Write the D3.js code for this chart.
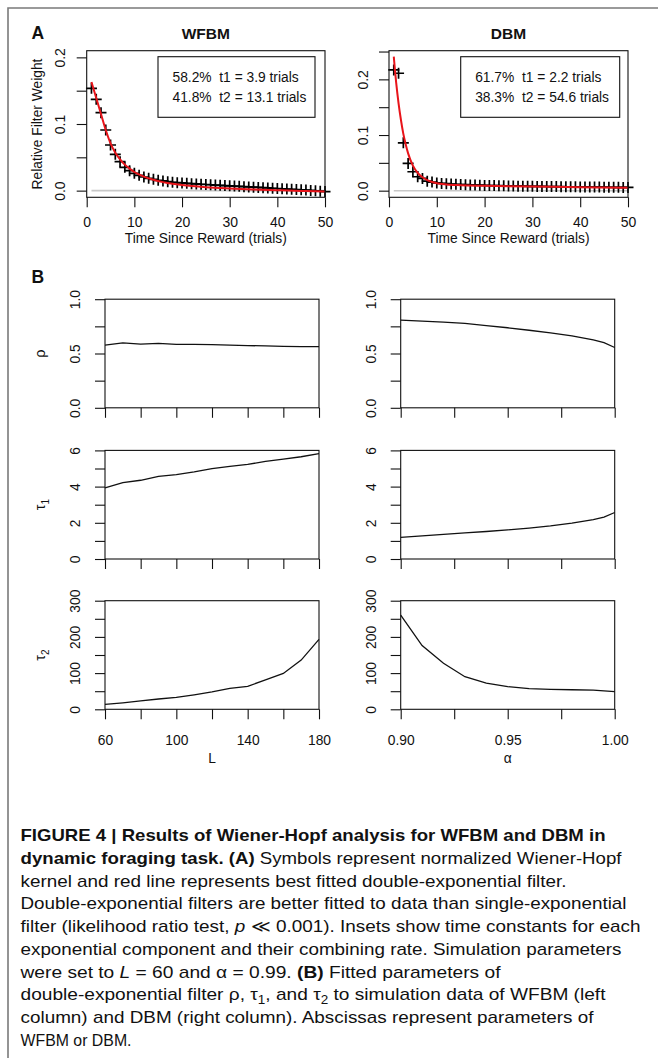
<!DOCTYPE html>
<html>
<head>
<meta charset="utf-8">
<script src="https://cdn.jsdelivr.net/npm/d3@7"></script>
<style>
  body { margin: 0; background: #fff; }
  svg { display: block; }
  text { font-family: "Liberation Sans", Arial, sans-serif; fill: #111; }
</style>
</head>
<body>
<svg id="fig" width="658" height="1058"></svg>
<script>
// ---- panel A: Wiener-Hopf kernel (crosses, trial 1..50) and fitted filter (red)
const wfbmKernel = [0.1535, 0.137, 0.117, 0.091, 0.0685, 0.0545, 0.0435, 0.035, 0.030, 0.026,
  0.023, 0.0205, 0.0185, 0.017, 0.0155, 0.0145, 0.0135, 0.0125, 0.012, 0.0115,
  0.011, 0.0105, 0.010, 0.0096, 0.0092, 0.0088, 0.0084, 0.008, 0.0076, 0.0072,
  0.0068, 0.0064, 0.006, 0.0056, 0.0052, 0.0048, 0.0044, 0.004, 0.0036, 0.0032,
  0.0028, 0.0024, 0.002, 0.0016, 0.0012, 0.0008, 0.0003, -0.0002, -0.0008, -0.0014];
const wfbmFitT = [1, 1.5, 2, 2.5, 3, 4, 5, 6, 7, 8, 9, 10, 12, 14, 16, 18, 20, 25, 30, 35, 40, 45, 50];
const wfbmFitV = [0.163, 0.151, 0.139, 0.127, 0.115, 0.091, 0.071, 0.057, 0.047, 0.039, 0.033, 0.028,
  0.021, 0.0163, 0.0128, 0.0102, 0.0083, 0.0052, 0.0033, 0.0018, 0.0006, -0.0004, -0.0012];

const dbmKernel = [0.217, 0.211, 0.086, 0.049, 0.034, 0.025, 0.022, 0.017, 0.0155, 0.014,
  0.013, 0.0125, 0.012, 0.0115, 0.011, 0.0107, 0.0104, 0.0101, 0.0098, 0.0095,
  0.0093, 0.0091, 0.0089, 0.0087, 0.0085, 0.0083, 0.0081, 0.008, 0.0079, 0.0078,
  0.0077, 0.0076, 0.0075, 0.0074, 0.0073, 0.0072, 0.0071, 0.007, 0.0069, 0.0068,
  0.0067, 0.0066, 0.0065, 0.0064, 0.0063, 0.0062, 0.0061, 0.006, 0.0059, 0.0058];
const dbmFitT = [1, 1.25, 1.5, 2, 2.5, 3, 3.5, 4, 5, 6, 7, 8, 9, 10, 12, 15, 20, 30, 40, 50];
const dbmFitV = [0.241, 0.216, 0.194, 0.157, 0.127, 0.102, 0.083, 0.067, 0.045, 0.032, 0.024, 0.019,
  0.0155, 0.0133, 0.0112, 0.0098, 0.0088, 0.0075, 0.0063, 0.0053];

const wfbmInset = ['58.2%  t1 = 3.9 trials', '41.8%  t2 = 13.1 trials'];
const dbmInset = ['61.7%  t1 = 2.2 trials', '38.3%  t2 = 54.6 trials'];

const trialTicks = [0, 10, 20, 30, 40, 50];
const wfbmYTicks = [0, 0.05, 0.1, 0.15, 0.2];
const dbmYTicks = [0, 0.05, 0.1, 0.15, 0.2, 0.25];

// ---- panel B: fitted parameters vs L (WFBM) and alpha (DBM)
const Lvals = [60, 70, 80, 90, 100, 110, 120, 130, 140, 150, 160, 170, 180];
const rhoL = [0.578, 0.598, 0.586, 0.593, 0.584, 0.584, 0.582, 0.578, 0.572, 0.571, 0.566, 0.564, 0.563];
const tau1L = [3.93, 4.22, 4.35, 4.57, 4.66, 4.81, 4.99, 5.12, 5.23, 5.39, 5.52, 5.65, 5.82];
const tau2L = [13.8, 18, 23, 28.5, 33, 40, 48, 58, 63.5, 81, 99, 136, 193];

const alphaVals = [0.90, 0.91, 0.92, 0.93, 0.94, 0.95, 0.96, 0.97, 0.98, 0.99, 0.995, 1.00];
const rhoA = [0.807, 0.798, 0.789, 0.777, 0.757, 0.737, 0.714, 0.690, 0.662, 0.625, 0.600, 0.555];
const tau1A = [1.19, 1.28, 1.36, 1.44, 1.52, 1.61, 1.71, 1.83, 1.98, 2.18, 2.32, 2.57];
const tau2A = [260, 176, 127, 90, 72, 62.5, 57, 55, 54, 53, 51, 49];

const LTicks = [60, 80, 100, 120, 140, 160, 180];
const LLabels = [60, 100, 140, 180];
const alphaTicks = [0.9, 0.925, 0.95, 0.975, 1.0];
const alphaLabels = [0.9, 0.95, 1.0];
const rhoTicks = [0, 0.25, 0.5, 0.75, 1];
const tau1Ticks = [0, 1, 2, 3, 4, 5, 6];
const tau2Ticks = [0, 50, 100, 150, 200, 250, 300];

const svg = d3.select('#fig');
const ink = '#111';

// outer frame (only top and left edge are inside the picture)
svg.append('path')
  .attr('d', 'M8,1060V8H660')
  .attr('fill', 'none')
  .attr('stroke', '#7a7a7a')
  .attr('stroke-width', 1.6);

function box(b) {
  svg.append('rect')
    .attr('x', b.x0).attr('y', b.y0)
    .attr('width', b.x1 - b.x0).attr('height', b.y1 - b.y0)
    .attr('fill', 'none').attr('stroke', ink).attr('stroke-width', 1.1);
}

// bottom axis: ticks outward, labels only where fmt returns text
function bottomAxis(x, y0, ticks, fmt, labelDy, size) {
  const g = svg.append('g').attr('transform', 'translate(0,' + y0 + ')')
    .call(d3.axisBottom(x).tickValues(ticks).tickSize(10).tickSizeOuter(0).tickFormat(fmt));
  g.select('.domain').remove();
  g.selectAll('line').attr('stroke', ink).attr('stroke-width', 1.1);
  g.selectAll('text').attr('y', labelDy).attr('dy', 0)
    .attr('font-size', size).attr('font-family', '"Liberation Sans", Arial, sans-serif').attr('fill', ink);
}

// left axis with R-style rotated labels
function leftAxis(y, x0, ticks, fmt, labelDx, size) {
  const g = svg.append('g').attr('transform', 'translate(' + x0 + ',0)')
    .call(d3.axisLeft(y).tickValues(ticks).tickSize(10).tickSizeOuter(0).tickFormat(fmt));
  g.select('.domain').remove();
  g.selectAll('line').attr('stroke', ink).attr('stroke-width', 1.1);
  g.selectAll('text').attr('x', 0).attr('dy', 0)
    .attr('text-anchor', 'middle')
    .attr('transform', 'translate(' + (-labelDx) + ',0) rotate(-90)')
    .attr('font-size', size).attr('font-family', '"Liberation Sans", Arial, sans-serif').attr('fill', ink);
}

function label(txt, x, y, opts) {
  opts = opts || {};
  const t = svg.append('text')
    .attr('text-anchor', opts.anchor || 'middle')
    .attr('font-size', opts.size || 13.8)
    .attr('font-weight', opts.bold ? 'bold' : null)
    .style('white-space', 'pre')
    .text(txt);
  if (opts.rotate) t.attr('transform', 'translate(' + x + ',' + y + ') rotate(-90)');
  else t.attr('x', x).attr('y', y);
  return t;
}

// ---------------- panel A ----------------
function kernelPanel(b, yDomain, yTicks, kernel, fitT, fitV, title, inset, legendBox, showYTitle) {
  const x = d3.scaleLinear().domain([0, 50]).range([b.x0, b.x1]);
  const y = d3.scaleLinear().domain(yDomain).range([b.y1, b.y0]);

  // zero reference line
  svg.append('line')
    .attr('x1', x(1)).attr('x2', x(50)).attr('y1', y(0)).attr('y2', y(0))
    .attr('stroke', '#c8c8c8').attr('stroke-width', 1.6);

  // kernel crosses
  svg.append('g').selectAll('path')
    .data(kernel)
    .enter()
    .append('path')
    .attr('d', (d, i) => {
      const cx = x(i + 1), cy = y(d);
      return 'M' + (cx - 5.5) + ',' + cy + 'H' + (cx + 5.5) + 'M' + cx + ',' + (cy - 5.5) + 'V' + (cy + 5.5);
    })
    .attr('stroke', '#000').attr('stroke-width', 1.7);

  // fitted double exponential
  const line = d3.line().x(d => x(d[0])).y(d => y(d[1])).curve(d3.curveMonotoneX);
  svg.append('path')
    .datum(fitT.map((t, i) => [t, fitV[i]]))
    .attr('d', line)
    .attr('fill', 'none').attr('stroke', '#e8141a').attr('stroke-width', 2);

  box(b);
  bottomAxis(x, b.y1, trialTicks, d => d, 30, 14);
  leftAxis(y, b.x0, yTicks, d => (Math.abs(d * 10 - Math.round(d * 10)) < 1e-6 ? d3.format('.1f')(d) : ''), 21.5, 14);

  label('Time Since Reward (trials)', (b.x0 + b.x1) / 2, 242.7);
  label(title, (b.x0 + b.x1) / 2, 38.5, { bold: true, size: 15.5 });
  if (showYTitle) label('Relative Filter Weight', 42, (b.y0 + b.y1) / 2, { rotate: true });

  svg.append('rect')
    .attr('x', legendBox.x).attr('y', legendBox.y)
    .attr('width', legendBox.w).attr('height', legendBox.h)
    .attr('fill', '#fff').attr('stroke', ink).attr('stroke-width', 1.1);
  inset.forEach((s, i) => {
    label(s, legendBox.x + 14.5, legendBox.y + 25.5 + i * 20, { anchor: 'start' });
  });
}

kernelPanel({ x0: 86.7, x1: 325, y0: 50.7, y1: 197.3 }, [-0.01, 0.21], wfbmYTicks,
  wfbmKernel, wfbmFitT, wfbmFitV, 'WFBM', wfbmInset, { x: 158, y: 56.7, w: 157, h: 60.6 }, true);
kernelPanel({ x0: 389, x1: 628, y0: 50.7, y1: 197.3 }, [-0.0119, 0.2515], dbmYTicks,
  dbmKernel, dbmFitT, dbmFitV, 'DBM', dbmInset, { x: 460.7, y: 56.7, w: 159, h: 60.6 }, false);

label('A', 31.5, 39, { anchor: 'start', bold: true, size: 17.5 });
label('B', 31.5, 282.5, { anchor: 'start', bold: true, size: 17.5 });

// ---------------- panel B ----------------
const rows = [
  { y0: 299.2, y1: 407.8, domain: [0, 1], ticks: rhoTicks, fmt: d => (d % 0.5 === 0 ? d3.format('.1f')(d) : ''), name: 'ρ', left: rhoL, right: rhoA },
  { y0: 450.4, y1: 559, domain: [0, 6], ticks: tau1Ticks, fmt: d => (d % 2 === 0 ? d : ''), name: 'τ', sub: '1', left: tau1L, right: tau1A },
  { y0: 600.7, y1: 709.3, domain: [0, 300], ticks: tau2Ticks, fmt: d => (d % 100 === 0 ? d : ''), name: 'τ', sub: '2', left: tau2L, right: tau2A }
];
const colL = { x0: 105, x1: 319 };
const colR = { x0: 400.7, x1: 614.7 };
const xL = d3.scaleLinear().domain([60, 180]).range([colL.x0, colL.x1]);
const xA = d3.scaleLinear().domain([0.9, 1.0]).range([colR.x0, colR.x1]);

rows.forEach((r, ri) => {
  const y = d3.scaleLinear().domain(r.domain).range([r.y1, r.y0]);
  const last = ri === rows.length - 1;
  [[colL, xL, Lvals, r.left, LTicks, LLabels, d => d],
   [colR, xA, alphaVals, r.right, alphaTicks, alphaLabels, d3.format('.2f')]].forEach(c => {
    const [col, x, xs, ys, ticks, labs, f] = c;
    const line = d3.line().x((d, i) => x(xs[i])).y(d => y(d));
    svg.append('path').datum(ys).attr('d', line)
      .attr('fill', 'none').attr('stroke', ink).attr('stroke-width', 1.3);
    box({ x0: col.x0, x1: col.x1, y0: r.y0, y1: r.y1 });
    bottomAxis(x, r.y1, ticks, d => (last && labs.some(v => Math.abs(v - d) < 1e-9) ? f(d) : ''), 35.7, 13.8);
    leftAxis(y, col.x0, r.ticks, r.fmt, 24.8, 13.8);
  });
  // y title for the row (left column only)
  const t = label(r.name, 45, (r.y0 + r.y1) / 2, { rotate: true, size: 14.5 });
  if (r.sub) {
    t.append('tspan').attr('font-size', 10).attr('dy', 3.5).text(r.sub);
  }
});

label('L', (colL.x0 + colL.x1) / 2, 763);
label('α', (colR.x0 + colR.x1) / 2, 763);

// ---------------- caption ----------------
const captionLines = [
  { w: 585, segs: [['FIGURE 4 | Results of Wiener-Hopf analysis for WFBM and DBM in', 'b']] },
  { w: 601, segs: [['dynamic foraging task. (A)', 'b'], [' Symbols represent normalized Wiener-Hopf']] },
  { w: 546, segs: [['kernel and red line represents best fitted double-exponential filter.']] },
  { w: 606, segs: [['Double-exponential filters are better fitted to data than single-exponential']] },
  { w: 620, segs: [['filter (likelihood ratio test, '], ['p', 'i'], [' \u226A 0.001). Insets show time constants for each']] },
  { w: 601, segs: [['exponential component and their combining rate. Simulation parameters']] },
  { w: 480, segs: [['were set to '], ['L', 'i'], [' = 60 and \u03B1 = 0.99. '], ['(B)', 'b'], [' Fitted parameters of']] },
  { w: 585, segs: [['double-exponential filter \u03C1, \u03C4'], ['1', 'sub'], [', and \u03C4'], ['2', 'sub'], [' to simulation data of WFBM (left']] },
  { w: 573, segs: [['column) and DBM (right column). Abscissas represent parameters of']] },
  { w: 111, segs: [['WFBM or DBM.']] }
];

captionLines.forEach((ln, i) => {
  const t = svg.append('text')
    .attr('x', 20.5)
    .attr('y', 841 + i * 22.75)
    .attr('font-size', 17)
    .attr('textLength', ln.w)
    .attr('lengthAdjust', 'spacingAndGlyphs')
    .style('white-space', 'pre');
  let shifted = false;
  ln.segs.forEach(s => {
    const sp = t.append('tspan').text(s[0]);
    if (s[1] === 'b') sp.attr('font-weight', 'bold');
    if (s[1] === 'i') sp.attr('font-style', 'italic');
    if (s[1] === 'sub') { sp.attr('font-size', 12).attr('dy', 4); shifted = true; }
    else if (shifted) { sp.attr('dy', -4); shifted = false; }
  });
});
</script>
</body>
</html>
